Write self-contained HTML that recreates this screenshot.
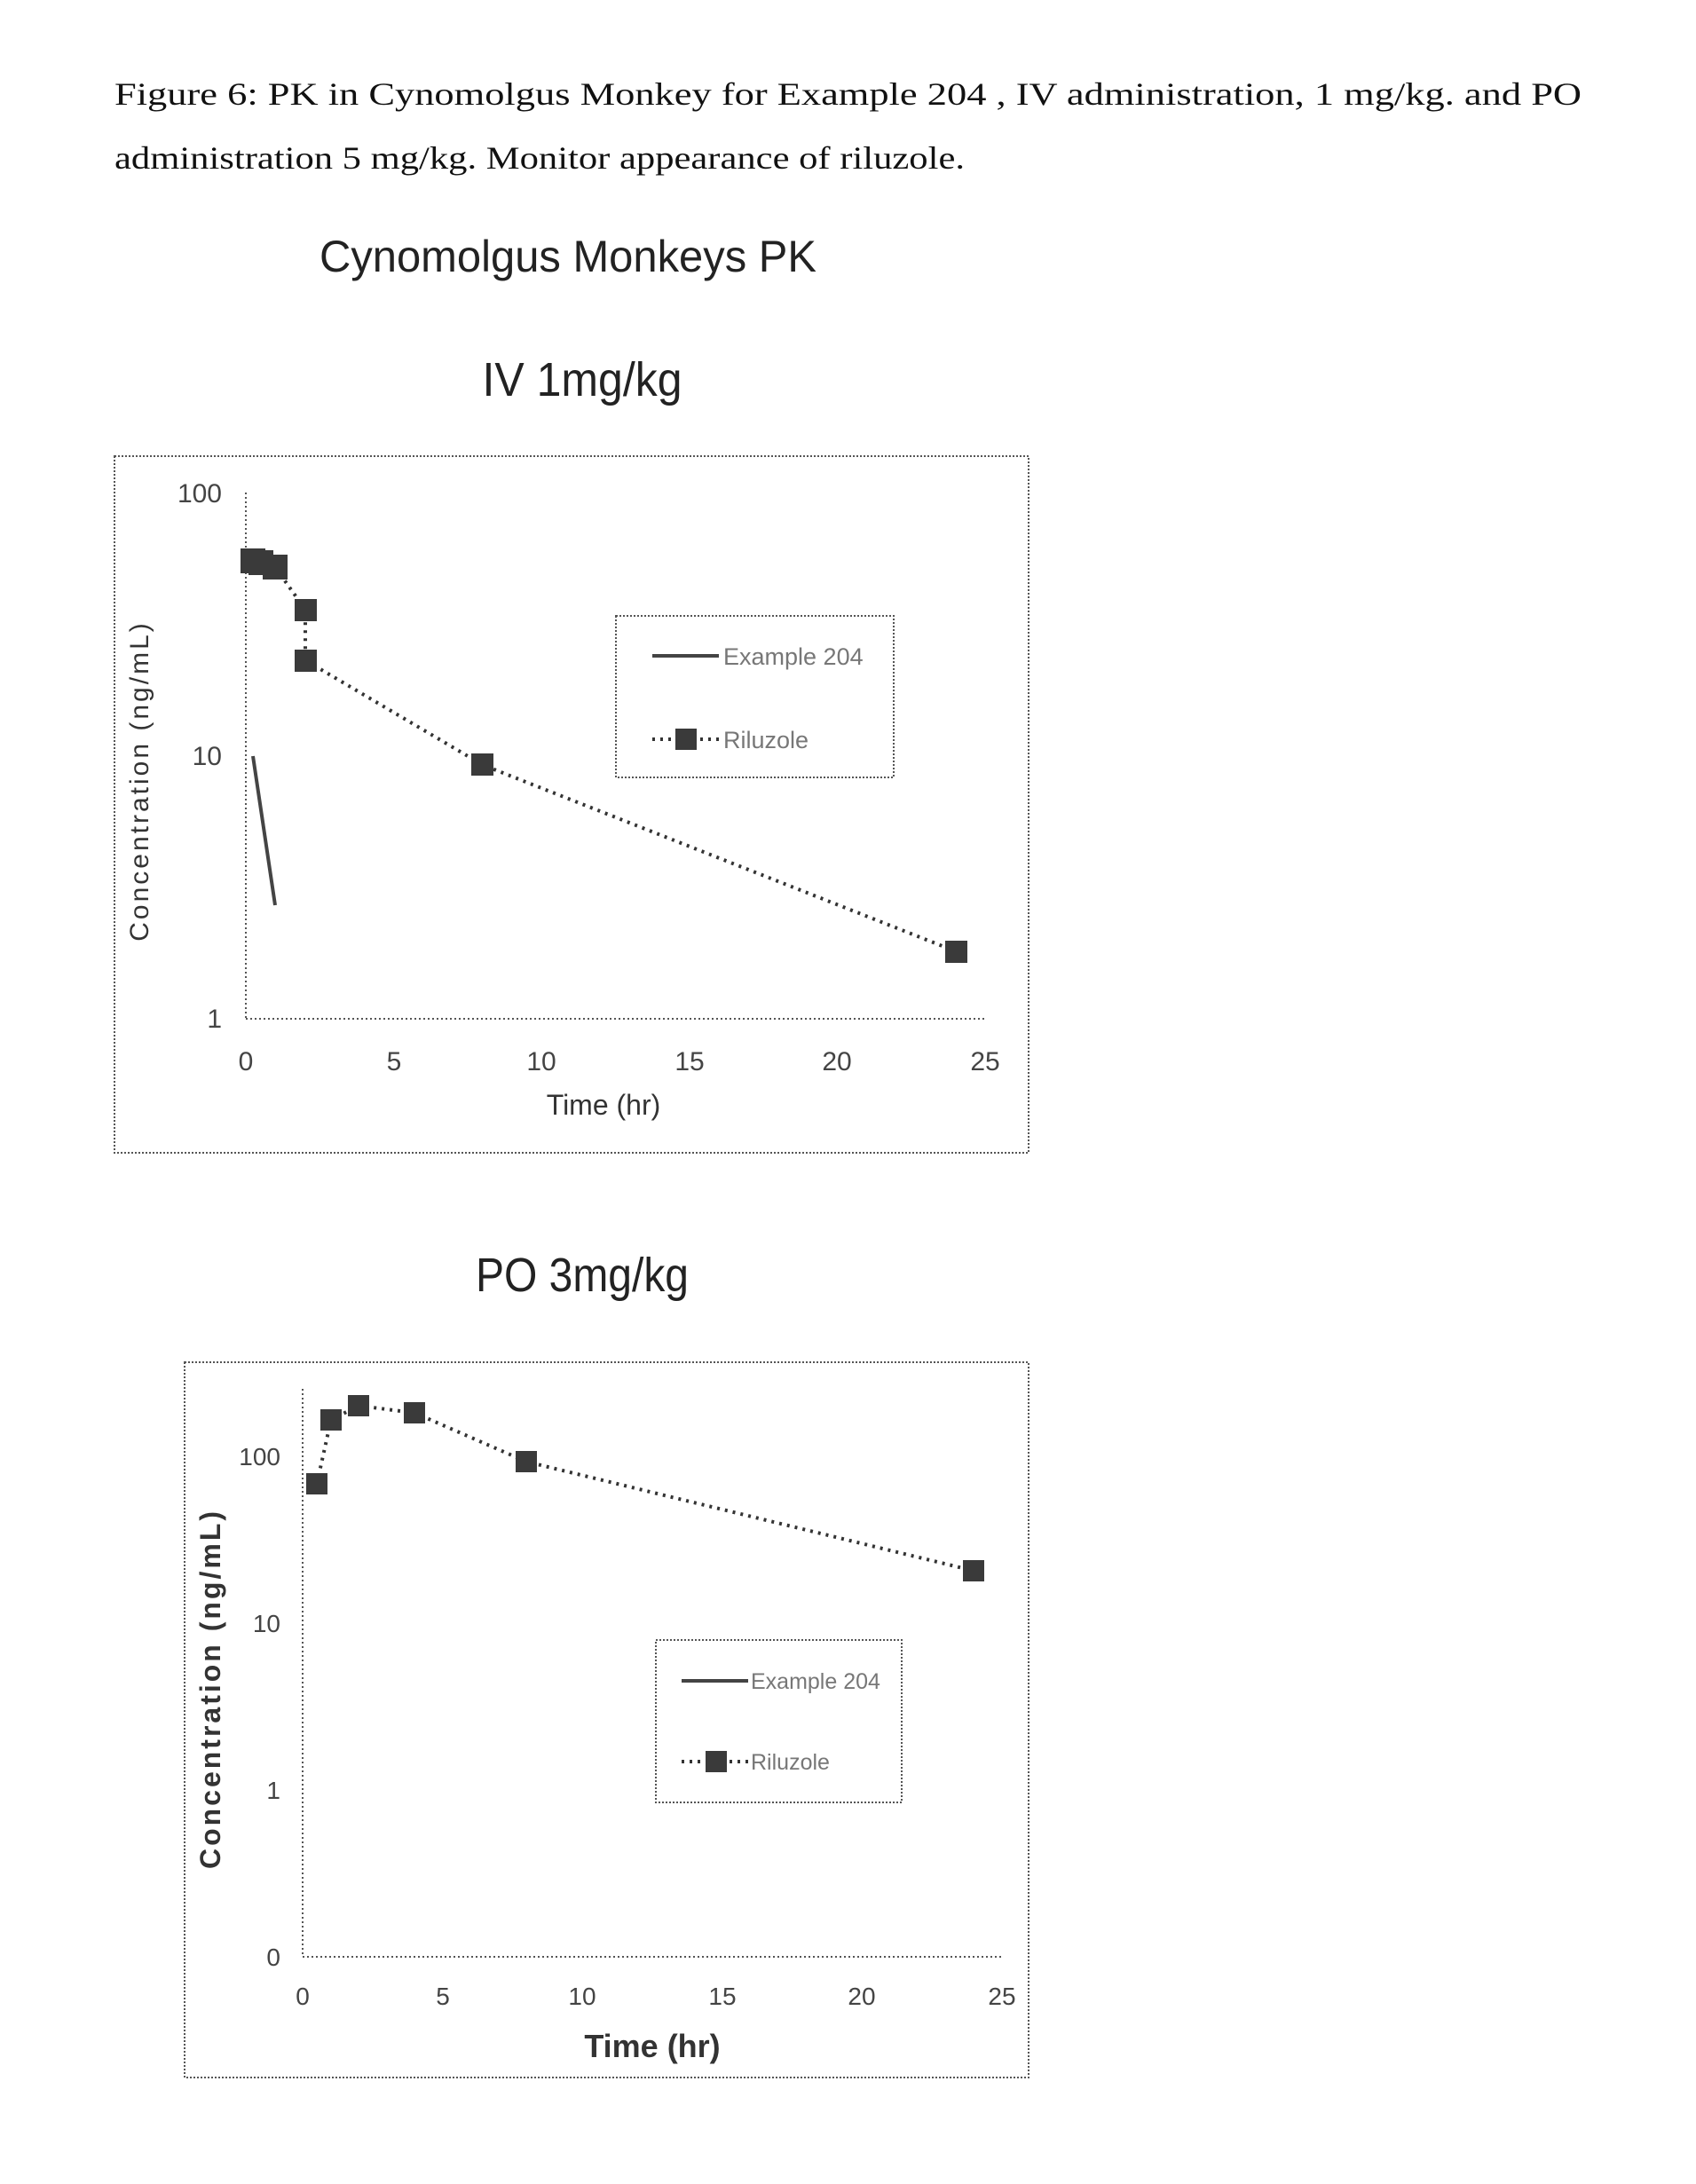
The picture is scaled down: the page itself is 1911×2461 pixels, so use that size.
<!DOCTYPE html>
<html><head><meta charset="utf-8"><style>html,body{margin:0;padding:0;background:#fff}svg{display:block}</style></head>
<body>
<svg width="1911" height="2461" viewBox="0 0 1911 2461" xmlns="http://www.w3.org/2000/svg" font-family="Liberation Sans, sans-serif">
<g font-family="Liberation Serif, serif" font-size="36" fill="#111">
<text x="129" y="118" textLength="1653" lengthAdjust="spacingAndGlyphs">Figure 6: PK in Cynomolgus Monkey for Example 204 , IV administration, 1 mg/kg. and PO</text>
<text x="129" y="190" textLength="958" lengthAdjust="spacingAndGlyphs">administration 5 mg/kg.  Monitor appearance of riluzole.</text>
</g>
<text x="640" y="306" font-size="50" text-anchor="middle" fill="#222" textLength="560" lengthAdjust="spacingAndGlyphs">Cynomolgus Monkeys  PK</text>
<text x="656" y="446" font-size="54" text-anchor="middle" fill="#222" textLength="225" lengthAdjust="spacingAndGlyphs">IV 1mg/kg</text>

<!-- Chart 1 -->
<rect x="129" y="514" width="1030" height="785" fill="none" stroke="#555" stroke-width="2" stroke-dasharray="2,2"/>
<g stroke="#555" stroke-width="2" stroke-dasharray="2,3">
<line x1="277" y1="555" x2="277" y2="1148"/><line x1="277" y1="1148" x2="1110" y2="1148"/>
</g>
<g fill="#444" font-size="30" text-anchor="end">
<text x="250" y="566">100</text><text x="250" y="862">10</text><text x="250" y="1158">1</text>
</g>
<g fill="#444" font-size="30" text-anchor="middle">
<text x="277" y="1206">0</text><text x="444" y="1206">5</text><text x="610" y="1206">10</text><text x="777" y="1206">15</text><text x="943" y="1206">20</text><text x="1110" y="1206">25</text>
</g>
<text x="680" y="1256" font-size="32" fill="#333" text-anchor="middle">Time (hr)</text>
<text transform="translate(167,880) rotate(-90)" font-size="30" fill="#333" text-anchor="middle" letter-spacing="3">Concentration (ng/mL)</text>
<polyline points="285,632 294,634 310,639 344,687 344,744 544,862 1077,1072" fill="none" stroke="#333" stroke-width="4" stroke-dasharray="3,6"/>
<polyline points="285,852 310,1020" fill="none" stroke="#444" stroke-width="4"/>
<g fill="#3a3a3a">
<rect x="271" y="618" width="28" height="28"/><rect x="280" y="620" width="28" height="28"/><rect x="296" y="625" width="28" height="28"/>
<rect x="332" y="675" width="25" height="25"/><rect x="332" y="732" width="25" height="25"/><rect x="531" y="849" width="25" height="25"/><rect x="1065" y="1060" width="25" height="25"/>
</g>
<rect x="694" y="694" width="313" height="182" fill="#fff" stroke="#555" stroke-width="2" stroke-dasharray="2,2"/>
<line x1="735" y1="739" x2="810" y2="739" stroke="#444" stroke-width="4"/>
<text x="815" y="749" font-size="27" fill="#777">Example 204</text>
<line x1="735" y1="833" x2="810" y2="833" stroke="#333" stroke-width="4" stroke-dasharray="3,6"/>
<rect x="761" y="821" width="24" height="24" fill="#3a3a3a"/>
<text x="815" y="843" font-size="27" fill="#777">Riluzole</text>

<text x="656" y="1455" font-size="54" text-anchor="middle" fill="#222" textLength="240" lengthAdjust="spacingAndGlyphs">PO 3mg/kg</text>

<!-- Chart 2 -->
<rect x="208" y="1535" width="951" height="806" fill="none" stroke="#555" stroke-width="2" stroke-dasharray="2,2"/>
<g stroke="#555" stroke-width="2" stroke-dasharray="2,3">
<line x1="341" y1="1565" x2="341" y2="2205"/><line x1="341" y1="2205" x2="1129" y2="2205"/>
</g>
<g fill="#444" font-size="28" text-anchor="end">
<text x="316" y="1651">100</text><text x="316" y="1839">10</text><text x="316" y="2027">1</text><text x="316" y="2215">0</text>
</g>
<g fill="#444" font-size="28" text-anchor="middle">
<text x="341" y="2259">0</text><text x="499" y="2259">5</text><text x="656" y="2259">10</text><text x="814" y="2259">15</text><text x="971" y="2259">20</text><text x="1129" y="2259">25</text>
</g>
<text x="735" y="2318" font-size="36" font-weight="bold" fill="#333" text-anchor="middle">Time (hr)</text>
<text transform="translate(248,1903) rotate(-90)" font-size="32" font-weight="bold" fill="#333" text-anchor="middle" letter-spacing="3">Concentration (ng/mL)</text>
<polyline points="357,1672 373,1600 404,1584 467,1592 593,1647 1097,1770" fill="none" stroke="#333" stroke-width="4" stroke-dasharray="3,6"/>
<g fill="#3a3a3a">
<rect x="345" y="1660" width="24" height="24"/><rect x="361" y="1588" width="24" height="24"/><rect x="392" y="1572" width="24" height="24"/>
<rect x="455" y="1580" width="24" height="24"/><rect x="581" y="1635" width="24" height="24"/><rect x="1085" y="1758" width="24" height="24"/>
</g>
<rect x="739" y="1848" width="277" height="183" fill="#fff" stroke="#555" stroke-width="2" stroke-dasharray="2,2"/>
<line x1="768" y1="1894" x2="843" y2="1894" stroke="#444" stroke-width="4"/>
<text x="846" y="1903" font-size="25" fill="#777">Example 204</text>
<line x1="768" y1="1985" x2="843" y2="1985" stroke="#333" stroke-width="4" stroke-dasharray="3,6"/>
<rect x="795" y="1973" width="24" height="24" fill="#3a3a3a"/>
<text x="846" y="1994" font-size="25" fill="#777">Riluzole</text>
</svg>
</body></html>
